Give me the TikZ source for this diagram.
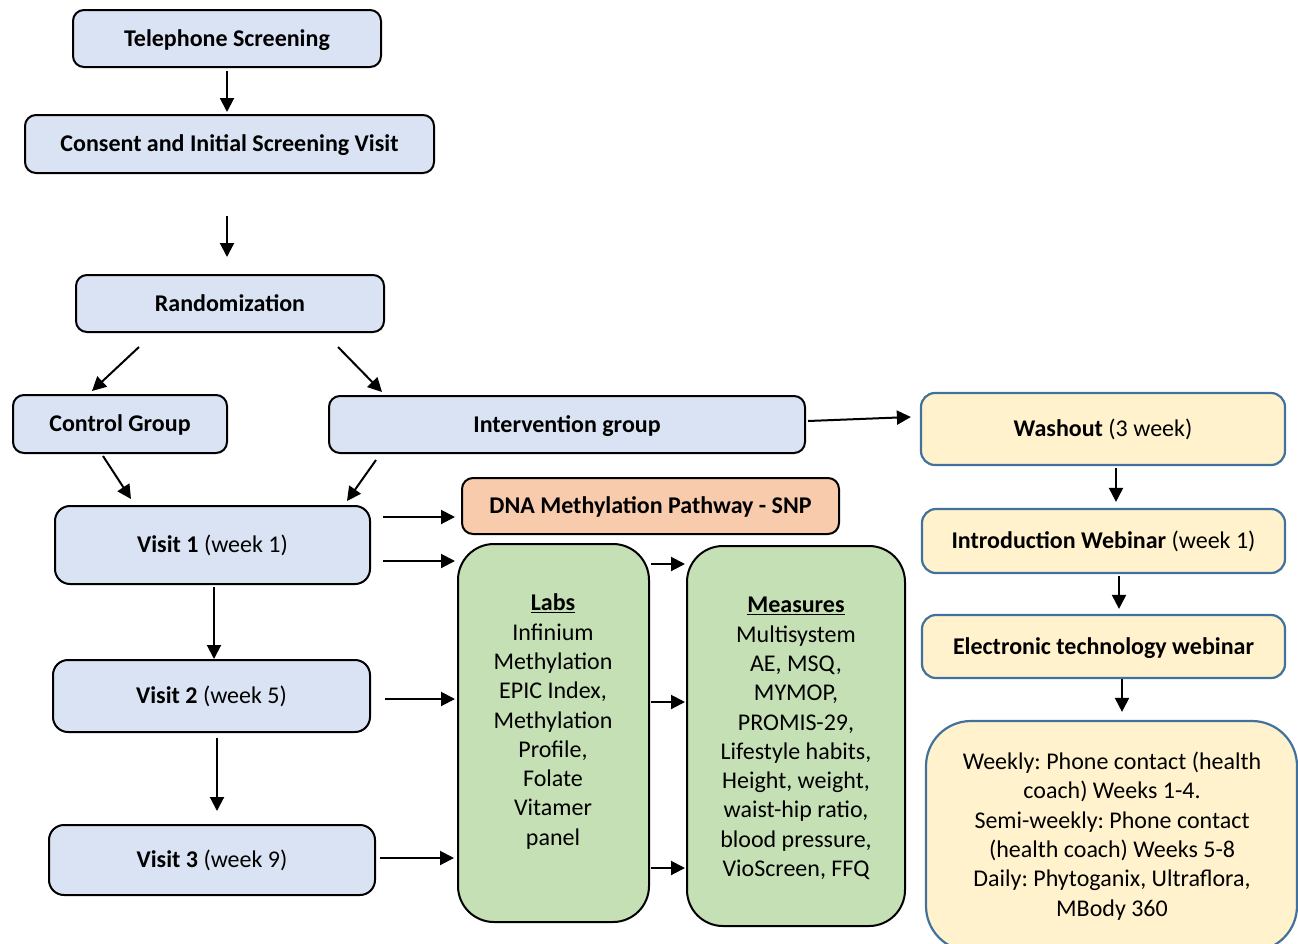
\documentclass[tikz,border=0pt]{standalone}
\usepackage{fontspec}
\setmainfont{Carlito}
\usetikzlibrary{arrows.meta}
\definecolor{bluefill}{HTML}{DAE3F3}
\definecolor{peach}{HTML}{F8CBAD}
\definecolor{greenfill}{HTML}{C5E0B4}
\definecolor{yellowfill}{HTML}{FFF2CC}
\definecolor{blueedge}{HTML}{41719C}
\frenchspacing
\tikzset{
  bx/.style={draw=black, line width=2pt, fill=bluefill, rounded corners=11pt, inner sep=0pt, align=center, text height=18pt, text depth=2.5pt, font=\fontsize{24}{29.3}\selectfont},
  vbx/.style={bx, rounded corners=15pt},
  pbx/.style={bx, fill=peach},
  gbx/.style={draw=black, line width=2pt, fill=greenfill, rounded corners=36pt, inner sep=0pt},
  ybx/.style={bx, draw=blueedge, line width=2.2pt, fill=yellowfill, rounded corners=14pt},
  lbx/.style={draw=blueedge, line width=2.2pt, fill=yellowfill, rounded corners=45pt, inner sep=0pt},
  txt/.style={inner sep=0pt, align=center, font=\fontsize{24}{29.3}\selectfont},
  arr/.style={draw=black, line width=2pt, -{Triangle[length=14pt,width=14pt]}}
}
\begin{document}
\begin{tikzpicture}[x=1pt,y=-1pt]
\useasboundingbox (0,0) rectangle (1298,943);
\clip (0,0) rectangle (1298,943);
% left column
\node[bx, minimum width=308pt, minimum height=57pt] (ts) at (227,38.5) {\textbf{Telephone Screening}};
\node[bx, minimum width=409pt, minimum height=58pt] (cons) at (229.5,144) {\textbf{Consent and Initial Screening Visit}};
\node[bx, minimum width=308pt, minimum height=57pt] (rand) at (230,303.5) {\textbf{Randomization}};
\node[bx, minimum width=214pt, minimum height=58pt] (ctrl) at (120,424) {\textbf{Control Group}};
\node[bx, minimum width=476pt, minimum height=57pt] (interv) at (567,424.5) {\textbf{Intervention group}};
\node[vbx, minimum width=315pt, minimum height=78pt] (v1) at (212.5,545) {\textbf{Visit 1} (week 1)};
\node[vbx, minimum width=317pt, minimum height=72pt] (v2) at (211.5,696) {\textbf{Visit 2} (week 5)};
\node[vbx, minimum width=326pt, minimum height=70pt] (v3) at (212,860) {\textbf{Visit 3} (week 9)};
% middle
\node[pbx, minimum width=377pt, minimum height=56pt] (dna) at (650.5,506) {\textbf{DNA Methylation Pathway - SNP}};
\node[gbx, minimum width=191pt, minimum height=378pt] (labs) at (553.5,733) {};
\node[txt] (labsT) at (553,721.5) {\textbf{\underline{Labs}}\\Infinium\\Methylation\\EPIC Index,\\Methylation\\Profile,\\Folate\\Vitamer\\panel};
\node[gbx, minimum width=218pt, minimum height=380pt] (meas) at (796,736) {};
\node[txt] (measT) at (796,738.5) {\textbf{\underline{Measures}}\\Multisystem\\AE, MSQ,\\MYMOP,\\PROMIS-29,\\Lifestyle habits,\\Height, weight,\\waist-hip ratio,\\blood pressure,\\VioScreen, FFQ};
% right column
\node[ybx, minimum width=364pt, minimum height=72pt] (wash) at (1103,429) {\textbf{Washout} (3 week)};
\node[ybx, minimum width=363pt, minimum height=64pt] (intro) at (1103.5,541) {\textbf{Introduction Webinar} (week 1)};
\node[ybx, minimum width=363pt, minimum height=63pt] (elec) at (1103.5,646.5) {\textbf{Electronic technology webinar}};
\node[lbx, minimum width=371pt, minimum height=230pt] (bot) at (1111.5,836) {};
\node[txt] (botT) at (1112,836) {Weekly: Phone contact (health\\coach) Weeks 1-4.\\Semi-weekly: Phone contact\\(health coach) Weeks 5-8\\Daily: Phytoganix, Ultraflora,\\MBody 360};
% arrows left column
\draw[arr] ([yshift=-3pt]ts.south) -- ([yshift=2pt]ts.south |- cons.north);
\draw[arr] ([xshift=-2.5pt,yshift=-42pt]cons.south) -- ([xshift=-3pt,yshift=17pt]rand.north);
\draw[arr] ([xshift=64pt,yshift=-14pt]rand.south west) -- ([xshift=80pt,yshift=3pt]ctrl.north west);
\draw[arr] ([xshift=263pt,yshift=-14pt]rand.south west) -- ([xshift=54pt,yshift=3pt]interv.north west);
\draw[arr] ([xshift=91pt,yshift=-2pt]ctrl.south west) -- ([xshift=77pt,yshift=6pt]v1.north west);
\draw[arr] ([xshift=48pt,yshift=-6pt]interv.south west) -- ([xshift=293pt,yshift=4pt]v1.north west);
\draw[arr] ([xshift=1.5pt,yshift=-2pt]v1.south) -- ([xshift=2.5pt]v2.north);
\draw[arr] ([xshift=5.5pt,yshift=-5pt]v2.south) -- ([xshift=5pt,yshift=13pt]v3.north);
% arrows to middle
\draw[arr] ([xshift=12pt,yshift=28pt]v1.east) -- ([xshift=-6pt,yshift=-11pt]dna.west);
\draw[arr] ([xshift=12pt,yshift=-16pt]v1.east) -- ([xshift=-2pt,yshift=172pt]labs.west);
\draw[arr] ([xshift=14pt,yshift=-3pt]v2.east) -- ([xshift=-2pt,yshift=34pt]labs.west);
\draw[arr] ([xshift=4pt,yshift=2pt]v3.east) -- ([xshift=-3pt,yshift=-125pt]labs.west);
\draw[arr] ([xshift=1pt,yshift=169pt]labs.east) -- ([xshift=-1pt,yshift=172pt]meas.west);
\draw[arr] ([xshift=1pt,yshift=31pt]labs.east) -- ([xshift=-1pt,yshift=34pt]meas.west);
\draw[arr] ([xshift=1pt,yshift=-135pt]labs.east) -- ([xshift=-1pt,yshift=-132pt]meas.west);
% arrows right column
\draw[arr] ([xshift=2pt,yshift=3.5pt]interv.east) -- ([xshift=-9pt,yshift=12pt]wash.west);
\draw[arr] ([xshift=13pt,yshift=-2pt]wash.south) -- ([xshift=12.5pt,yshift=6pt]intro.north);
\draw[arr] ([xshift=15.5pt,yshift=-2pt]intro.south) -- ([xshift=15.5pt,yshift=5pt]elec.north);
\draw[arr] ([xshift=18.5pt]elec.south) -- ([xshift=10.5pt,yshift=8pt]bot.north);
\end{tikzpicture}
\end{document}
